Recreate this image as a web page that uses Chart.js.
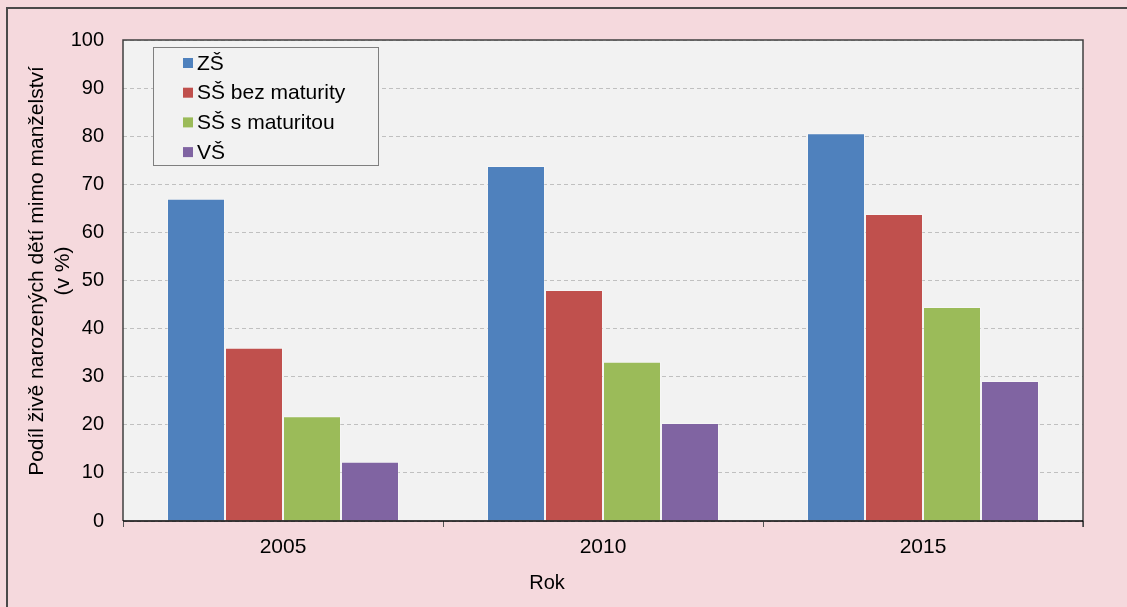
<!DOCTYPE html>
<html>
<head>
<meta charset="utf-8">
<script src="https://cdn.jsdelivr.net/npm/chart.js@4.4.0/dist/chart.umd.min.js"></script>
<style>
html,body{margin:0;padding:0;background:#F5D9DD;}
#wrap{width:1127px;height:607px;position:relative;}
</style>
</head>
<body>
<div id="wrap"><canvas id="c" width="1127" height="607"></canvas></div>
<script>
const categories = ['2005', '2010', '2015'];
const seriesNames = ['ZŠ', 'SŠ bez maturity', 'SŠ s maturitou', 'VŠ'];
const zs = [67.0, 73.8, 80.6];
const ssBez = [36.0, 48.0, 63.8];
const ssS = [21.8, 33.1, 44.5];
const vs = [12.3, 20.4, 29.1];
const seriesColors = ['#4F81BD', '#C0504D', '#9BBB59', '#8064A2'];
const yTitle = ['Podíl živě narozených dětí mimo manželství', '(v %)'];
const xTitle = 'Rok';

const FONT = 'Liberation Sans, Arial, sans-serif';

const bgPlugin = {
  id: 'bg',
  beforeDraw(chart) {
    const ctx = chart.ctx;
    const a = chart.chartArea;
    ctx.save();
    ctx.fillStyle = '#F5D9DD';
    ctx.fillRect(0, 0, chart.width, chart.height);
    ctx.fillStyle = '#F2F2F2';
    ctx.fillRect(a.left, a.top, a.right - a.left, a.bottom - a.top);
    // outer frame
    ctx.strokeStyle = '#4a4a4a';
    ctx.lineWidth = 2;
    ctx.beginPath();
    ctx.moveTo(7, chart.height);
    ctx.lineTo(7, 8);
    ctx.lineTo(chart.width, 8);
    ctx.stroke();
    ctx.restore();
  },
  afterDatasetsDraw(chart) {
    const ctx = chart.ctx;
    const a = chart.chartArea;
    ctx.save();
    ctx.strokeStyle = '#404040';
    ctx.lineWidth = 1.5;
    ctx.beginPath();
    ctx.moveTo(a.left, a.bottom);
    ctx.lineTo(a.left, a.top);
    ctx.lineTo(a.right, a.top);
    ctx.lineTo(a.right, a.bottom + 6);
    ctx.stroke();
    ctx.strokeStyle = '#000000';
    ctx.lineWidth = 1.5;
    ctx.beginPath();
    ctx.moveTo(a.left, a.bottom);
    ctx.lineTo(a.right, a.bottom);
    ctx.stroke();
    // legend box
    const lx = 153, ly = 47, lw = 225, lh = 118;
    ctx.fillStyle = '#F2F2F2';
    ctx.fillRect(lx, ly, lw, lh);
    ctx.strokeStyle = '#7f7f7f';
    ctx.lineWidth = 1;
    ctx.strokeRect(lx + 0.5, ly + 0.5, lw, lh);
    ctx.font = '21px ' + FONT;
    ctx.textBaseline = 'middle';
    chart.data.datasets.forEach((ds, i) => {
      const cy = 63 + i * 29.7;
      ctx.fillStyle = ds.backgroundColor;
      ctx.fillRect(183, cy - 5, 10, 10);
      ctx.fillStyle = '#000';
      ctx.fillText(ds.label, 197, cy + 1);
    });
    // axis titles
    ctx.fillStyle = '#000';
    ctx.textAlign = 'center';
    ctx.textBaseline = 'middle';
    ctx.font = '20px ' + FONT;
    ctx.fillText(xTitle, 547, 583);
    ctx.font = '21px ' + FONT;
    ctx.translate(37, 271);
    ctx.rotate(-Math.PI / 2);
    ctx.fillText(yTitle[0], 0, 0);
    ctx.fillText(yTitle[1], 0, 26);
    ctx.restore();
  }
};

const seriesData = [zs, ssBez, ssS, vs];
new Chart(document.getElementById('c'), {
  type: 'bar',
  data: {
    labels: categories,
    datasets: seriesNames.map((n, i) => ({
      label: n,
      data: seriesData[i],
      backgroundColor: seriesColors[i],
      borderColor: 'rgba(255,255,255,0.3)',
      borderWidth: 1,
      categoryPercentage: 0.725,
      barPercentage: 1.0
    }))
  },
  options: {
    responsive: false,
    animation: false,
    devicePixelRatio: 1,
    layout: { padding: { left: 0, top: 40, right: 44, bottom: 0 } },
    plugins: { legend: { display: false }, tooltip: { enabled: false } },
    scales: {
      x: {
        offset: true,
        afterFit(s) { s.height = 86; },
        grid: { offset: true, drawOnChartArea: false, drawTicks: true, tickLength: 6, tickColor: '#555', lineWidth: 1 },
        border: { display: false },
        ticks: { color: '#000', font: { family: FONT, size: 21 }, padding: 8 },
        title: { display: false }
      },
      y: {
        min: 0, max: 100,
        afterFit(s) { s.width = 123; },
        grid: { color: '#C0C0C0', drawTicks: false, lineWidth: 1 },
        border: { display: false, dash: [4, 3] },
        ticks: { stepSize: 10, color: '#000', font: { family: FONT, size: 20 }, padding: 19 },
        title: { display: false }
      }
    }
  },
  plugins: [bgPlugin]
});
</script>
</body>
</html>
